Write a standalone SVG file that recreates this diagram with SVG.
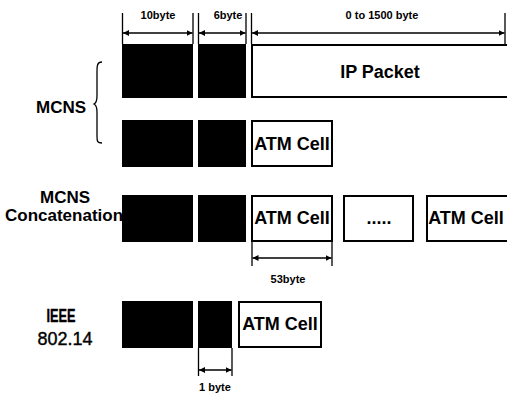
<svg xmlns="http://www.w3.org/2000/svg" width="507" height="399" viewBox="0 0 507 399">
<defs>
<style>
.blk{fill:#000;stroke:#000;stroke-width:1}
.box{fill:#fff;stroke:#000;stroke-width:2}
.lbl{font-family:"Liberation Sans",Arial,sans-serif;font-weight:bold;font-size:17px;fill:#000}
.num{font-family:"Liberation Sans",Arial,sans-serif;font-size:19px;fill:#000;stroke:#000;stroke-width:0.4;text-anchor:middle}
.cell{font-family:"Liberation Sans",Arial,sans-serif;font-weight:bold;font-size:18px;fill:#000;text-anchor:middle}
.dim{font-family:"Liberation Sans",Arial,sans-serif;font-weight:bold;font-size:11px;fill:#000;text-anchor:middle}
.tick{stroke:#000;stroke-width:1.3;fill:none}
.arr{stroke:#000;stroke-width:1.5;fill:none;marker-start:url(#a);marker-end:url(#a)}
</style>
<marker id="a" viewBox="0 0 10 10" refX="10" refY="5" markerWidth="6" markerHeight="6" orient="auto-start-reverse" markerUnits="userSpaceOnUse">
<path d="M0,0 L10,5 L0,10 Z" fill="#000"/>
</marker>
</defs>
<g id="labels">
<text class="lbl" x="36" y="113">MCNS</text>
<path d="M102,62 C97,62 97,66 97,72 L97,96 C97,101 96,103 94,104 C96,105 97,107 97,112 L97,136 C97,141 97,143 102,143" class="tick" stroke-width="1.6"/>
<text class="lbl" x="65" y="203" text-anchor="middle">MCNS</text>
<text class="lbl" x="5" y="221">Concatenation</text>
<text class="num" x="61" y="322" font-weight="bold" stroke-width="0" textLength="29" lengthAdjust="spacingAndGlyphs">IEEE</text>
<text class="num" x="65" y="345" textLength="55" lengthAdjust="spacingAndGlyphs">802.14</text>
</g>
<g id="row1">
<rect class="blk" x="122.5" y="44.5" width="70" height="53"/>
<rect class="blk" x="198.5" y="44.5" width="47" height="53"/>
<rect class="box" x="252" y="45" width="262" height="52"/>
<text class="cell" x="380" y="78">IP Packet</text>
</g>
<g id="row2">
<rect class="blk" x="122.5" y="120.5" width="70" height="46"/>
<rect class="blk" x="198.5" y="120.5" width="47" height="46"/>
<rect class="box" x="252" y="121" width="80" height="45"/>
<text class="cell" x="292" y="150">ATM Cell</text>
</g>
<g id="row3">
<rect class="blk" x="122.5" y="195.5" width="70" height="46"/>
<rect class="blk" x="198.5" y="195.5" width="47" height="46"/>
<rect class="box" x="252" y="196" width="80" height="45"/>
<text class="cell" x="292" y="224">ATM Cell</text>
<rect class="box" x="344" y="196" width="69" height="45"/>
<text class="cell" x="379" y="224" font-weight="normal" font-size="11">.....</text>
<rect class="box" x="427" y="196" width="84" height="45"/>
<text class="cell" x="466" y="224">ATM Cell</text>
</g>
<g id="row4">
<rect class="blk" x="122.5" y="301.5" width="70" height="46"/>
<rect class="blk" x="198.5" y="301.5" width="33" height="46"/>
<rect class="box" x="239" y="302" width="82" height="45"/>
<text class="cell" x="280" y="330">ATM Cell</text>
</g>
<g id="connectors">
<path class="tick" d="M122.5,13 V44 M193,13 V44 M198.5,13 V44 M246,13 V44 M251.5,13 V44 M505,13 V44"/>
<line class="arr" x1="123" y1="33" x2="192.5" y2="33"/>
<line class="arr" x1="199" y1="33" x2="245.5" y2="33"/>
<line class="arr" x1="252" y1="33" x2="504.5" y2="33"/>
<text class="dim" x="158" y="19">10byte</text>
<text class="dim" x="228" y="19">6byte</text>
<text class="dim" x="382" y="19">0 to 1500 byte</text>
<path class="tick" d="M252,241 V266 M332,241 V266"/>
<line class="arr" x1="252.5" y1="258" x2="331.5" y2="258"/>
<text class="dim" x="288" y="283" font-size="10">53byte</text>
<path class="tick" d="M198.5,348 V376 M232,348 V376"/>
<line class="arr" x1="199" y1="370" x2="231.5" y2="370"/>
<text class="dim" x="215" y="391" font-weight="normal">1 byte</text>
</g>
</svg>
